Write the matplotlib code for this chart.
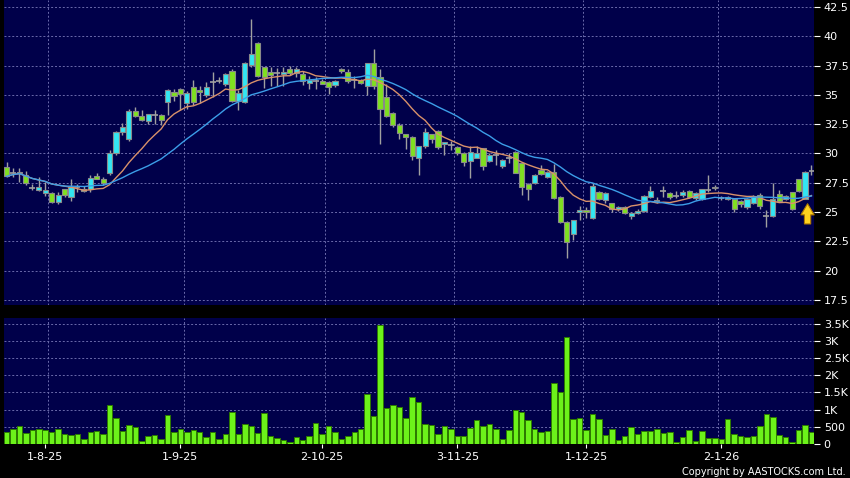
import numpy as np
import pandas as pd
import matplotlib
matplotlib.use('Agg')
import matplotlib.pyplot as plt

# daily OHLC (left to right)
opens = [28.85, 28.35, 28.3, 28.15, 27.05, 26.9, 26.6, 26.6, 25.9, 26.95,
         26.3, 27.15, 26.8, 27.0, 28.05, 27.8, 28.3, 30.0, 31.8, 31.2,
         33.65, 33.2, 32.8, 33.3, 33.3, 34.4, 35.25, 35.5, 34.35, 35.7,
         35.45, 35.0, 36.1, 36.2, 35.95, 37.05, 34.5, 34.4, 37.55, 39.4,
         37.35, 36.95, 36.85, 36.75, 37.2, 36.85, 36.8, 36.0, 36.2, 36.2,
         36.1, 35.85, 37.2, 36.95, 36.3, 36.3, 35.8, 37.75, 36.5, 34.8,
         33.45, 32.4, 31.65, 31.45, 29.65, 30.6, 31.65, 31.9, 30.8, 30.75,
         30.55, 30.0, 29.4, 29.65, 30.45, 29.4, 29.85, 28.9, 29.6, 30.1,
         29.15, 27.4, 27.5, 28.6, 28.0, 28.45, 26.3, 24.15, 23.15, 25.0,
         25.2, 24.5, 26.7, 26.0, 25.75, 25.25, 25.45, 24.65, 24.95, 25.1,
         26.3, 25.95, 26.8, 26.6, 26.4, 26.45, 26.8, 26.2, 26.15, 26.9,
         27.05, 26.2, 26.15, 26.15, 25.95, 25.45, 25.8, 26.5, 24.7, 24.7,
         26.55, 26.1, 26.7, 27.85, 26.15, 28.5]
highs = [29.3, 28.8, 28.8, 28.5, 27.4, 28.0, 27.6, 26.7, 26.7, 27.0,
         27.8, 27.4, 27.2, 28.2, 28.3, 28.0, 30.3, 31.9, 32.6, 33.8,
         34.0, 33.7, 33.4, 33.7, 33.4, 35.5, 35.5, 35.6, 35.3, 36.3,
         35.8, 36.1, 36.95, 36.5, 36.9, 37.25, 35.4, 37.8, 41.5, 39.5,
         37.4, 37.4, 37.3, 37.4, 37.5, 37.4, 37.0, 36.6, 36.5, 36.4,
         36.2, 36.3, 37.3, 37.2, 36.6, 36.4, 37.75, 38.9, 37.2, 35.9,
         33.5, 32.6, 31.7, 31.5, 30.65, 32.2, 31.7, 32.0, 31.0, 31.1,
         30.6, 30.1, 30.6, 30.6, 30.5, 30.0, 30.3, 29.5, 30.0, 30.2,
         29.2, 27.5, 28.25, 29.0, 28.5, 29.1, 26.35, 24.2, 24.35, 25.5,
         25.4, 27.5, 26.8, 26.7, 25.8, 25.5, 25.5, 25.0, 25.3, 26.5,
         27.2, 26.3, 27.2, 26.7, 26.8, 26.9, 26.9, 26.7, 27.0, 28.2,
         27.3, 26.4, 26.4, 26.2, 26.0, 26.2, 26.5, 26.6, 25.2, 27.45,
         26.9, 26.5, 26.75, 27.85, 28.5, 29.0]
lows = [28.0, 28.0, 27.55, 27.3, 26.9, 26.8, 26.4, 25.75, 25.7, 26.3,
        25.95, 26.7, 26.7, 26.7, 27.8, 27.3, 28.15, 29.9, 31.6, 31.1,
        33.1, 32.8, 32.55, 32.5, 32.4, 33.3, 34.5, 33.7, 33.8, 34.1,
        34.3, 34.8, 34.8, 36.0, 35.8, 34.4, 33.75, 34.3, 37.4, 36.5,
        35.6, 35.8, 35.8, 35.8, 36.7, 36.5, 35.85, 35.5, 35.5, 35.9,
        35.1, 35.7, 36.9, 36.0, 35.6, 35.9, 35.0, 35.5, 30.8, 33.1,
        32.3, 31.2, 30.35, 29.45, 28.15, 30.5, 30.9, 30.4, 29.9, 30.3,
        29.9, 28.9, 27.95, 29.6, 28.6, 29.3, 29.0, 28.8, 29.2, 28.3,
        26.5, 26.0, 27.4, 28.2, 27.9, 26.1, 24.1, 21.1, 22.6, 24.3,
        24.5, 24.4, 26.0, 25.8, 25.0, 25.1, 24.8, 24.4, 24.8, 25.0,
        26.2, 25.8, 26.3, 26.1, 26.2, 26.3, 26.2, 26.0, 26.0, 26.7,
        26.9, 26.0, 26.0, 25.0, 25.4, 25.3, 25.7, 25.3, 23.75, 24.6,
        25.9, 26.0, 25.2, 26.7, 26.1, 28.2]
closes = [28.05, 28.35, 28.45, 27.45, 27.05, 27.1, 26.85, 25.9, 26.5, 26.45,
          27.1, 27.15, 26.95, 27.95, 27.85, 27.5, 30.0, 31.85, 32.25, 33.65,
          33.2, 32.9, 33.35, 33.3, 32.9, 35.4, 34.9, 35.1, 35.2, 34.4,
          35.25, 35.65, 36.1, 36.2, 36.8, 34.5, 35.2, 37.7, 38.45, 36.6,
          36.55, 36.7, 36.85, 36.95, 36.85, 37.2, 36.2, 36.25, 36.2, 35.95,
          35.7, 36.2, 37.0, 36.15, 36.3, 36.0, 37.7, 35.8, 33.8, 33.2,
          32.45, 31.75, 31.4, 29.75, 30.6, 31.85, 31.2, 30.55, 30.95, 30.75,
          30.0, 29.3, 30.15, 30.05, 28.9, 29.85, 29.85, 29.45, 29.6, 28.35,
          27.15, 27.0, 28.2, 28.25, 28.4, 26.2, 24.15, 22.45, 24.3, 25.2,
          25.0, 27.25, 26.15, 26.65, 25.3, 25.45, 24.95, 24.95, 25.1, 26.4,
          26.8, 26.05, 26.8, 26.3, 26.4, 26.75, 26.3, 26.6, 26.95, 26.9,
          27.15, 26.2, 26.25, 25.25, 25.65, 26.1, 26.35, 25.5, 24.7, 26.15,
          25.95, 26.4, 25.3, 26.8, 28.45, 28.5]
volumes = [341, 449, 527, 332, 400, 449, 400, 361, 429, 302,
           263, 293, 146, 341, 390, 302, 1131, 751, 371, 546,
           488, 88, 244, 263, 146, 848, 361, 439, 361, 419,
           361, 195, 351, 146, 283, 917, 283, 595, 536, 312,
           887, 244, 185, 127, 49, 215, 127, 224, 614, 283,
           536, 361, 156, 234, 341, 429, 1463, 819, 3461, 1053,
           1121, 1082, 761, 1375, 1229, 585, 566, 293, 527, 439,
           234, 244, 478, 683, 536, 585, 429, 146, 410, 995,
           917, 683, 439, 341, 390, 1765, 1502, 3110, 712, 751,
           410, 878, 712, 263, 449, 117, 234, 507, 293, 390,
           390, 449, 322, 361, 68, 215, 410, 78, 380, 185,
           176, 146, 712, 293, 244, 195, 244, 527, 858, 780,
           263, 205, 59, 410, 556, 341]

tick_pos = [6, 27, 49, 70, 90, 111]
tick_labels = ['1-8-25', '1-9-25', '2-10-25', '3-11-25', '1-12-25', '2-1-26']
grid_pos = [6.5, 27.5, 49.5, 69.5, 89.5, 110.5]
price_ticks = [17.5, 20, 22.5, 25, 27.5, 30, 32.5, 35, 37.5, 40, 42.5]
vol_ticks = [0, 500, 1000, 1500, 2000, 2500, 3000, 3500]
vol_labels = ['0', '500', '1K', '1.5K', '2K', '2.5K', '3K', '3.5K']

bg = '#00004a'
up_col = '#33e6f2'
dn_col = '#7fe020'
wick_col = '#a0a0a0'
grid_col = '#6a6aaa'

o = np.array(opens)
h = np.array(highs)
l = np.array(lows)
c = np.array(closes)
x = np.arange(len(c))
up = c > o
dn = c < o
dj = c == o

ma10 = pd.Series(closes).rolling(10, min_periods=1).mean()
ma20 = pd.Series(closes).rolling(20, min_periods=1).mean()

fig = plt.figure(figsize=(8.5, 4.78), dpi=100, facecolor='black')
ax = fig.add_axes([4/850, 1-305/478, 810/850, 305/478], facecolor=bg)
axv = fig.add_axes([4/850, 1-444/478, 810/850, 126/478], facecolor=bg, sharex=ax)

for a in (ax, axv):
    for s in a.spines.values():
        s.set_visible(False)
    for g in grid_pos:
        a.axvline(g, color=grid_col, lw=0.7, ls=(0, (2, 2)), zorder=0)

for p in price_ticks:
    ax.axhline(p, color=grid_col, lw=0.7, ls=(0, (2, 2)), zorder=0)
for v in vol_ticks[1:]:
    axv.axhline(v, color=grid_col, lw=0.7, ls=(0, (2, 2)), zorder=0)

# candles
ax.vlines(x, l, h, color=wick_col, lw=1, zorder=2)
ax.bar(x[up], (c-o)[up], bottom=o[up], width=0.8, color=up_col,
       edgecolor='#8a8a8a', lw=0.8, zorder=3)
ax.bar(x[dn], (o-c)[dn], bottom=c[dn], width=0.8, color=dn_col,
       edgecolor='#8a8a8a', lw=0.8, zorder=3)
ax.hlines(c[dj], x[dj]-0.45, x[dj]+0.45, color=wick_col, lw=1.2, zorder=3)

ax.plot(x, ma10, color='#d9916a', lw=1, zorder=4)
ax.plot(x, ma20, color='#3c9ee8', lw=1, zorder=4)

ax.annotate('', xy=(124.4, 25.95), xytext=(124.4, 23.75),
            arrowprops=dict(arrowstyle='simple,head_length=0.8,head_width=0.95,tail_width=0.45',
                            fc='#ffd21e', ec='#b07a00', lw=0.8), zorder=5)

ax.set_xlim(-0.4, 125.4)
ax.set_ylim(17.07, 43.1)
ax.yaxis.tick_right()
ax.set_yticks(price_ticks)
ax.set_yticklabels(['%g' % p for p in price_ticks])
ax.tick_params(axis='y', colors='white', length=4, width=0.8, pad=3, labelsize=8)
ax.tick_params(axis='x', bottom=False, labelbottom=False)

# volume
axv.bar(x, volumes, width=0.85, color='#6cf21a', edgecolor='#2d7a00', lw=0.7, zorder=3)
axv.set_ylim(0, 3660)
axv.yaxis.tick_right()
axv.set_yticks(vol_ticks)
axv.set_yticklabels(vol_labels)
axv.tick_params(axis='y', colors='white', length=4, width=0.8, pad=3, labelsize=8)
axv.set_xticks(tick_pos)
axv.set_xticklabels(tick_labels)
axv.tick_params(axis='x', colors='white', length=3, width=0.8, pad=3, labelsize=8)

fig.text(846/850, 1-472/478, 'Copyright by AASTOCKS.com Ltd.', ha='right', va='center',
         fontsize=7, color='white')

fig.savefig('out.png', dpi=100, facecolor='black')
